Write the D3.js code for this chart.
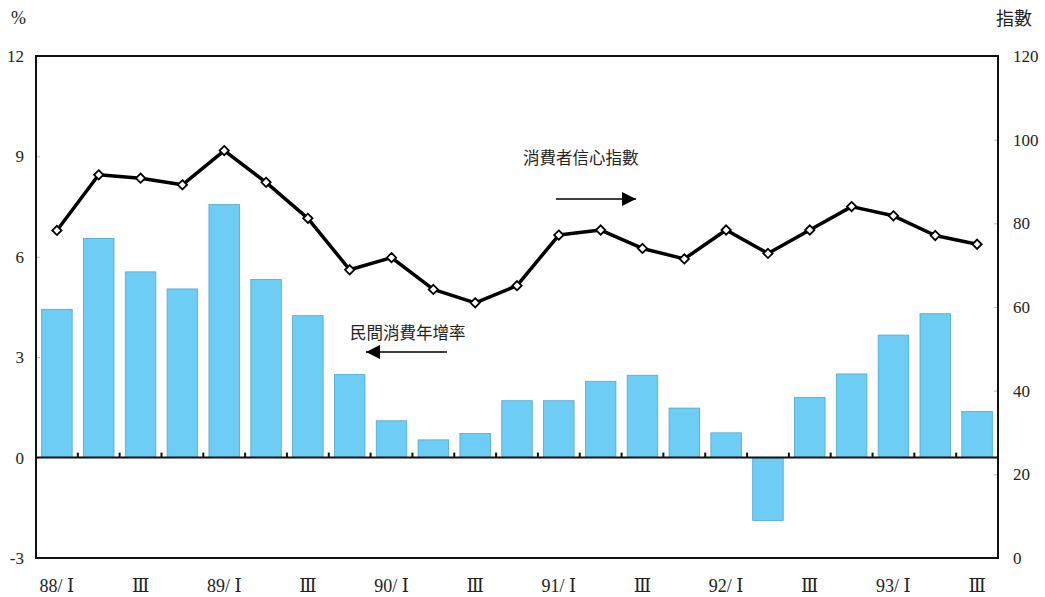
<!DOCTYPE html>
<html><head><meta charset="utf-8">
<script src="https://cdn.jsdelivr.net/npm/d3@7"></script>
<style>
html,body{margin:0;padding:0;background:#fff;}
svg{display:block;}
</style></head>
<body>
<svg id="chart" width="1045" height="597"></svg>
<script>
const categories = ["88/ Ⅰ","","Ⅲ","","89/ Ⅰ","","Ⅲ","","90/ Ⅰ","","Ⅲ","","91/ Ⅰ","","Ⅲ","","92/ Ⅰ","","Ⅲ","","93/ Ⅰ","","Ⅲ"];
const consumptionGrowth = [4.43,6.55,5.55,5.04,7.56,5.32,4.24,2.48,1.1,0.53,0.72,1.7,1.7,2.28,2.46,1.48,0.74,-1.88,1.8,2.5,3.66,4.3,1.38];
const confidenceIndex = [78.3,91.6,90.8,89.2,97.4,89.8,81.2,68.9,71.8,64.2,61.0,65.1,77.2,78.4,74.0,71.5,78.4,72.8,78.4,84.0,81.8,77.1,75.0];
const leftTicks = [-3,0,3,6,9,12];
const rightTicks = [0,20,40,60,80,100,120];

const svg = d3.select("#chart");
const L = 36, R = 998, T = 56, B = 558;
const x = d3.scaleBand().domain(d3.range(categories.length)).range([L, R]).padding(0);
const yL = d3.scaleLinear().domain([-3, 12]).range([B, T]);
const yR = d3.scaleLinear().domain([0, 120]).range([B, T]);
const serif = "'Liberation Serif','Times New Roman','DejaVu Serif',serif";
const cjk = "'Noto Sans CJK TC','Noto Sans CJK SC',sans-serif";

// bars
const bw = x.bandwidth() * 0.73;
svg.append("g").selectAll("rect").data(consumptionGrowth).join("rect")
  .attr("x", (d, i) => x(i) + (x.bandwidth() - bw) / 2)
  .attr("width", bw)
  .attr("y", d => yL(Math.max(0, d)))
  .attr("height", d => Math.abs(yL(d) - yL(0)))
  .attr("fill", "#6dcdf4")
  .attr("stroke", "#4fa9cf")
  .attr("stroke-width", 0.8);

// left axis
const axL = d3.axisLeft(yL).tickValues(leftTicks).tickSize(-4).tickPadding(12).tickFormat(d => String(d));
const gL = svg.append("g").attr("transform", `translate(${L},0)`).call(axL);
gL.select(".domain").remove();
gL.selectAll(".tick line").attr("stroke", "#bbb");
gL.selectAll("text").attr("font-family", serif).attr("font-size", 17).attr("fill", "#222");

// right axis
const axR = d3.axisRight(yR).tickValues(rightTicks).tickSize(-4).tickPadding(15).tickFormat(d => String(d));
const gR = svg.append("g").attr("transform", `translate(${R},0)`).call(axR);
gR.select(".domain").remove();
gR.selectAll(".tick line").attr("stroke", "#bbb");
gR.selectAll("text").attr("font-family", serif).attr("font-size", 17).attr("fill", "#222");

// frame
svg.append("rect").attr("x", L).attr("y", T).attr("width", R - L).attr("height", B - T)
  .attr("fill", "none").attr("stroke", "#111").attr("stroke-width", 2);

// zero line and category ticks
svg.append("line").attr("x1", L).attr("x2", R).attr("y1", yL(0)).attr("y2", yL(0))
  .attr("stroke", "#111").attr("stroke-width", 2);
svg.append("g").selectAll("line").data(d3.range(1, categories.length)).join("line")
  .attr("x1", i => x(i)).attr("x2", i => x(i))
  .attr("y1", yL(0)).attr("y2", yL(0) - 5)
  .attr("stroke", "#111").attr("stroke-width", 2);

// x labels
svg.append("g").selectAll("text").data(categories).join("text")
  .attr("x", (d, i) => x(i) + x.bandwidth() / 2)
  .attr("y", 592)
  .attr("text-anchor", "middle")
  .attr("font-family", serif).attr("font-size", 18).attr("fill", "#222")
  .text(d => d);

// line
const line = d3.line().x((d, i) => x(i) + x.bandwidth() / 2).y(d => yR(d));
svg.append("path").datum(confidenceIndex).attr("d", line)
  .attr("fill", "none").attr("stroke", "#000").attr("stroke-width", 3.5).attr("stroke-linejoin", "round");
svg.append("g").selectAll("path").data(confidenceIndex).join("path")
  .attr("transform", (d, i) => `translate(${x(i) + x.bandwidth() / 2},${yR(d)})`)
  .attr("d", d3.symbol().type(d3.symbolDiamond2).size(55))
  .attr("fill", "#fff").attr("stroke", "#000").attr("stroke-width", 1.8);

// axis titles
svg.append("text").attr("x", 11).attr("y", 24).attr("font-family", serif).attr("font-size", 18).attr("fill", "#222").text("%");
svg.append("text").attr("x", 996).attr("y", 25).attr("font-family", cjk).attr("font-size", 18).attr("fill", "#222").text("指數");

// annotations
svg.append("text").attr("x", 523).attr("y", 164).attr("font-family", cjk).attr("font-size", 16.5).attr("fill", "#222").text("消費者信心指數");
svg.append("text").attr("x", 350).attr("y", 339).attr("font-family", cjk).attr("font-size", 16.5).attr("fill", "#222").text("民間消費年增率");

const defs = svg.append("defs");
defs.append("marker").attr("id", "arr").attr("viewBox", "0 0 10 10").attr("refX", 10).attr("refY", 5)
  .attr("markerWidth", 18).attr("markerHeight", 14).attr("markerUnits", "userSpaceOnUse").attr("orient", "auto")
  .append("path").attr("d", "M0,0 L10,5 L0,10 Z").attr("fill", "#000");
svg.append("line").attr("x1", 556).attr("x2", 636).attr("y1", 199).attr("y2", 199)
  .attr("stroke", "#000").attr("stroke-width", 1.5).attr("marker-end", "url(#arr)");
svg.append("line").attr("x1", 447).attr("x2", 366).attr("y1", 352).attr("y2", 352)
  .attr("stroke", "#000").attr("stroke-width", 1.5).attr("marker-end", "url(#arr)");
</script>
</body></html>
